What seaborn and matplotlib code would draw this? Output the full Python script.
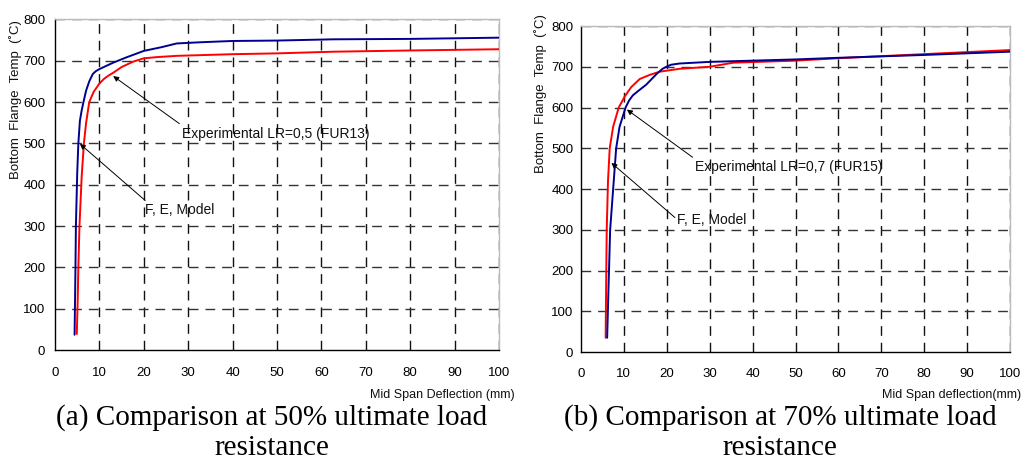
import matplotlib
matplotlib.use("Agg")
import matplotlib.pyplot as plt
from matplotlib.ticker import MultipleLocator
import seaborn as sns
import pandas as pd

# ---- data ----
# panel (a): 50% load
a_exp_x = [4.4, 4.6, 4.7, 5.0, 5.25, 5.6, 6.0, 6.4, 7.0, 7.7, 8.5, 9.2, 10.0, 13.0, 16.0, 20.0, 24.0, 27.4, 33.0, 40.0, 50.0, 62.6, 80.0, 100.0]
a_exp_y = [37, 200, 300, 430, 500, 555, 580, 600, 628, 650, 668, 675, 680, 695, 708, 724, 733, 742, 745, 748, 749, 752, 753, 756]
a_fe_x = [4.9, 5.1, 5.25, 5.5, 6.0, 6.5, 7.0, 7.7, 8.7, 10.0, 11.0, 12.0, 13.1, 15.0, 17.6, 20.0, 23.0, 27.4, 40.0, 50.0, 62.6, 80.0, 100.0]
a_fe_y = [39, 120, 200, 300, 420, 500, 550, 600, 625, 645, 656, 664, 671, 685, 698, 706, 709, 712, 716, 718, 722, 725, 728]

# panel (b): 70% load
b_exp_x = [6.1, 6.4, 6.8, 7.5, 8.2, 9.0, 10.4, 11.2, 12.1, 13.5, 15.2, 17.6, 19.0, 19.9, 21.0, 23.0, 30.0, 40.0, 50.0, 60.0, 80.0, 100.0]
b_exp_y = [35, 150, 300, 400, 500, 553, 600, 617, 630, 642, 656, 682, 695, 700, 705, 708, 712, 715, 718, 722, 729, 737]
b_fe_x = [5.75, 5.85, 6.0, 6.3, 6.7, 7.5, 8.8, 10.2, 11.7, 13.7, 16.0, 18.4, 23.0, 30.0, 35.5, 50.0, 60.0, 80.0, 100.0]
b_fe_y = [35, 150, 300, 420, 500, 553, 600, 627, 650, 670, 680, 688, 695, 700, 710, 715, 721, 731, 741]

x_ticks = list(range(0, 101, 10))
y_ticks = list(range(0, 801, 100))

ylabel = "Bottom  Flange  Temp  (˚C)"
xlabels = ["Mid Span Deflection (mm)", "Mid Span deflection(mm)"]
captions = ["(a) Comparison at 50% ultimate load\nresistance",
            "(b) Comparison at 70% ultimate load\nresistance"]
exp_labels = ["Experimental LR=0,5 (FUR13)", "Experimental LR=0,7 (FUR15)"]
fe_label = "F, E, Model"

sns.set_theme(style="white")
plt.rcParams["font.family"] = ["Liberation Sans", "DejaVu Sans"]

BLUE = "#000090"
RED = "#ff0000"

fig = plt.figure(figsize=(10.25, 4.73), dpi=100)
axA = fig.add_axes([0.0537, 0.260, 0.4331, 0.6988])
axB = fig.add_axes([0.5668, 0.2558, 0.4186, 0.6892])

panels = [
    (axA, a_exp_x, a_exp_y, a_fe_x, a_fe_y,
     dict(exp_txt=(28.6, 522), exp_tail=(28.0, 548), exp_tip=(13.1, 663),
          fe_txt=(20.3, 339), fe_tail=(20.3, 362), fe_tip=(5.6, 499))),
    (axB, b_exp_x, b_exp_y, b_fe_x, b_fe_y,
     dict(exp_txt=(26.5, 455), exp_tail=(26.0, 478), exp_tip=(10.7, 595),
          fe_txt=(22.4, 323), fe_tail=(21.9, 330), fe_tip=(7.1, 464))),
]

for i, (ax, ex, ey, fx, fy, ann) in enumerate(panels):
    ax.set_facecolor("white")
    # grid
    for xv in x_ticks[1:]:
        ax.axvline(xv, color="#111111", lw=1.0, ls=(0, (7, 5)), zorder=1)
    for yv in y_ticks[1:]:
        ax.axhline(yv, color="#333333", lw=1.0, ls=(0, (7, 5)), zorder=1)
    sns.lineplot(data=pd.DataFrame({"x": fx, "y": fy}), x="x", y="y", sort=False,
                 estimator=None, color=RED, lw=1.4, ax=ax, zorder=3)
    sns.lineplot(data=pd.DataFrame({"x": ex, "y": ey}), x="x", y="y", sort=False,
                 estimator=None, color=BLUE, lw=1.4, ax=ax, zorder=4)
    ax.set_xlim(0, 100)
    ax.set_ylim(0, 800)
    ax.set_xticks(x_ticks)
    ax.set_yticks(y_ticks)
    ax.set_xlabel("")
    ax.set_ylabel("")
    for s in ax.spines.values():
        s.set_color("#000000")
        s.set_linewidth(1.0)
    ax.spines["top"].set_color("#bbbbbb")
    ax.spines["right"].set_color("#bbbbbb")
    if i == 0:
        ax.tick_params(axis="both", which="major", direction="out", length=4,
                       width=1, colors="black", labelsize=9.5, pad=3)
    else:
        ax.xaxis.set_minor_locator(MultipleLocator(2))
        ax.yaxis.set_minor_locator(MultipleLocator(20))
        ax.tick_params(axis="both", which="major", direction="inout", length=7,
                       width=1, colors="black", labelsize=9.5, pad=2)
        ax.tick_params(axis="both", which="minor", direction="in", length=3,
                       width=0.8, colors="black")
    ax.tick_params(axis="x", pad=8)

    ax.annotate("", xy=ann["exp_tip"], xytext=ann["exp_tail"],
                arrowprops=dict(arrowstyle="-|>", color="black", lw=0.7,
                                mutation_scale=8, shrinkA=0, shrinkB=0), zorder=5)
    ax.text(ann["exp_txt"][0], ann["exp_txt"][1], exp_labels[i], fontsize=10,
            ha="left", va="center", color="#111111", zorder=6)
    ax.annotate("", xy=ann["fe_tip"], xytext=ann["fe_tail"],
                arrowprops=dict(arrowstyle="-|>", color="black", lw=0.7,
                                mutation_scale=8, shrinkA=0, shrinkB=0), zorder=5)
    ax.text(ann["fe_txt"][0], ann["fe_txt"][1], fe_label, fontsize=10,
            ha="left", va="center", color="#111111", zorder=6)

# y labels
fig.text(16 / 1025, 1 - 100 / 473, ylabel, rotation=90, ha="center", va="center",
         fontsize=9.5, color="#111111")
fig.text(541 / 1025, 1 - 94 / 473, ylabel, rotation=90, ha="center", va="center",
         fontsize=9.5, color="#111111")
# x labels
fig.text(515 / 1025, 1 - 395 / 473, xlabels[0], ha="right", va="center",
         fontsize=9, color="#111111")
fig.text(1021 / 1025, 1 - 395 / 473, xlabels[1], ha="right", va="center",
         fontsize=9, color="#111111")
# captions
for cx, cap in zip([272, 780], captions):
    fig.text(cx / 1025, 1 - 433 / 473, cap, ha="center", va="center",
             fontsize=21, family="Liberation Serif", color="black", linespacing=1.2)

fig.savefig("out.png", dpi=100, facecolor="white")
